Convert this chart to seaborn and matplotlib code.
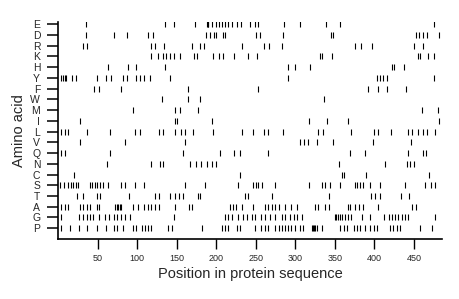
import pandas as pd
import seaborn as sns
import matplotlib
matplotlib.use("Agg")
import matplotlib.pyplot as plt

# amino acids, top to bottom as in the chart
amino_acids = ["E", "D", "R", "K", "H", "Y", "F", "W", "M", "I",
               "L", "V", "Q", "N", "C", "S", "T", "A", "G", "P"]

# positions of each residue in the sequence
pos_E = [35, 135, 146, 173, 188, 189, 190, 194, 199, 203, 207, 211, 215, 220,
         226, 231, 243, 249, 253, 286, 306, 339, 357, 476]
pos_D = [35, 70, 87, 113, 120, 187, 192, 197, 200, 208, 211, 250, 255, 284,
         345, 348, 452, 456, 461, 466, 482]
pos_R = [32, 36, 118, 122, 134, 169, 180, 184, 232, 260, 267, 283, 376, 383,
         397, 450, 461]
pos_K = [118, 126, 132, 137, 141, 146, 154, 172, 175, 196, 204, 209, 222, 240,
         252, 331, 334, 346, 455, 458, 468, 475]
pos_H = [63, 88, 99, 135, 291, 300, 318, 422, 425, 438]
pos_Y = [4, 6, 8, 10, 18, 23, 49, 61, 67, 82, 87, 99, 104, 108, 116, 141, 291,
         403, 407, 411, 416, 475]
pos_F = [45, 52, 80, 164, 253, 392, 405, 416, 440]
pos_W = [131, 164, 179, 336]
pos_M = [94, 148, 154, 177, 460, 480]
pos_I = [28, 148, 150, 194, 317, 340, 367, 482]
pos_L = [4, 9, 13, 36, 66, 97, 104, 128, 132, 148, 155, 161, 171, 196, 232,
         247, 260, 265, 284, 329, 335, 371, 400, 404, 421, 442, 448, 455, 461,
         466, 477]
pos_V = [28, 85, 160, 306, 311, 316, 327, 348, 398, 446]
pos_Q = [4, 9, 66, 158, 205, 222, 230, 265, 369, 388, 443, 461, 465]
pos_N = [62, 118, 129, 133, 167, 174, 181, 188, 194, 199, 355, 414, 441, 445,
         450]
pos_C = [20, 230, 359, 362, 390, 469]
pos_S = [2, 7, 13, 16, 19, 22, 25, 40, 43, 46, 49, 53, 57, 63, 80, 84, 97, 108,
         160, 186, 228, 247, 250, 253, 258, 274, 317, 334, 337, 344, 357, 376,
         378, 382, 386, 395, 407, 439, 464, 471, 477]
pos_T = [24, 31, 49, 53, 89, 123, 127, 141, 148, 153, 158, 177, 179, 236, 240,
         270, 342, 396, 401, 407, 434, 444]
pos_A = [4, 9, 13, 28, 32, 36, 40, 49, 51, 72, 74, 76, 78, 80, 95, 101, 108,
         114, 118, 123, 127, 148, 165, 169, 217, 221, 225, 232, 247, 262, 266,
         270, 274, 279, 287, 295, 302, 325, 329, 338, 342, 367, 369, 376, 380,
         386, 405, 447, 452]
pos_G = [4, 26, 32, 36, 40, 44, 51, 59, 64, 70, 74, 80, 84, 91, 146, 211, 215,
         220, 228, 234, 239, 245, 249, 257, 262, 268, 274, 283, 287, 293, 298,
         302, 308, 350, 352, 354, 356, 359, 363, 367, 371, 384, 395, 412, 418,
         422, 426, 430, 435, 439, 443, 477]
pos_P = [4, 15, 26, 36, 49, 61, 70, 74, 82, 95, 99, 106, 110, 114, 118, 139,
         144, 182, 207, 211, 215, 226, 230, 249, 257, 262, 266, 274, 279, 283,
         287, 291, 295, 300, 306, 310, 321, 322, 324, 325, 327, 334, 357, 361,
         365, 374, 378, 382, 388, 395, 399, 403, 420, 424, 428, 433, 458, 473]

positions = [pos_E, pos_D, pos_R, pos_K, pos_H, pos_Y, pos_F, pos_W, pos_M,
             pos_I, pos_L, pos_V, pos_Q, pos_N, pos_C, pos_S, pos_T, pos_A,
             pos_G, pos_P]

# long table: one row per residue, y = row index (E at top)
rows = []
for i, (aa, plist) in enumerate(zip(amino_acids, positions)):
    for p in plist:
        rows.append({"aa": aa, "pos": p, "row": len(amino_acids) - 1 - i})
df = pd.DataFrame(rows)

sns.set_style("ticks")
plt.rcParams["font.family"] = ["Liberation Sans", "DejaVu Sans"]

fig = plt.figure(figsize=(4.6, 2.99), dpi=100)
ax = fig.add_axes([0.1265, 0.2007, 0.8335, 0.726])

sns.scatterplot(data=df, x="pos", y="row", marker="|", s=16, linewidth=0.8,
                color="black", ax=ax, legend=False)

ax.set_xlim(0, 485)
ax.set_ylim(-1.0, 19.2)
ax.set_xticks([50, 100, 150, 200, 250, 300, 350, 400, 450])
ax.set_yticks(range(len(amino_acids)))
ax.set_yticklabels(amino_acids[::-1])
ax.tick_params(axis="y", length=8, width=1.1, pad=5, labelsize=7.5, color="black")
ax.tick_params(axis="x", length=7, width=1.0, pad=4, labelsize=6.5, color="black")
ax.set_xlabel("Position in protein sequence", fontsize=10.5, labelpad=3)
ax.set_ylabel("Amino acid", fontsize=10.5, labelpad=3)
sns.despine(ax=ax)
for side in ["left", "bottom"]:
    ax.spines[side].set_linewidth(1.2)
    ax.spines[side].set_color("black")

fig.savefig("out.png", dpi=100)
